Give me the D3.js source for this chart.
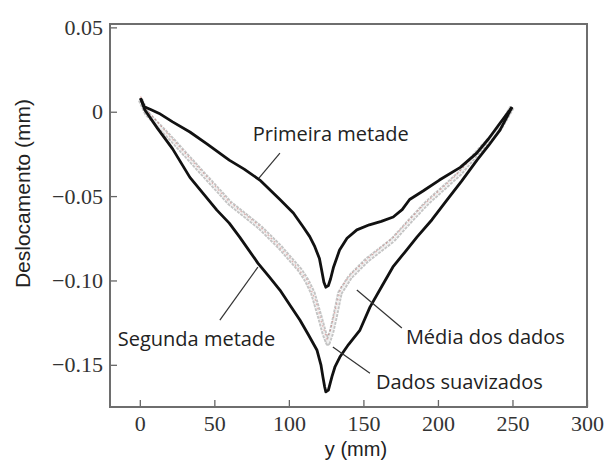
<!DOCTYPE html>
<html>
<head>
<meta charset="utf-8">
<script src="https://cdn.jsdelivr.net/npm/d3@7"></script>
<style>
  body { margin: 0; background: #fff; }
  svg { display: block; }
</style>
</head>
<body>
<div id="chart"></div>
<script>
// y (mm) and deslocamento (mm)
const primeiraX = [0.5, 3, 8, 13, 22, 33.6, 45, 60, 70, 80.5, 94, 103, 109.4, 114, 117.4, 120.5, 122, 123.5, 124.8, 126.5, 128, 130, 134, 139, 145.6, 154, 162, 170, 176, 181, 190, 201, 215, 226, 234, 241.6, 249.7];
const primeiraY = [0.008, 0.003, 0.001, -0.001, -0.006, -0.012, -0.019, -0.0287, -0.034, -0.0405, -0.052, -0.060, -0.068, -0.074, -0.080, -0.087, -0.094, -0.101, -0.104, -0.103, -0.099, -0.092, -0.082, -0.075, -0.070, -0.067, -0.065, -0.0624, -0.058, -0.052, -0.047, -0.0405, -0.033, -0.0245, -0.016, -0.0068, 0.0027];

const segundaX = [0.5, 3.4, 12, 22, 33.6, 43, 51.7, 60, 67, 79.2, 87, 94, 101, 107.4, 113, 118.8, 121.5, 122.8, 124, 124.8, 126.5, 128.9, 131, 134.2, 140, 147.7, 154.4, 162, 169.8, 178, 185.9, 196, 206, 216, 226.2, 234, 241.6, 249.7];
const segundaY = [0.008, 0.001, -0.010, -0.022, -0.0389, -0.049, -0.0583, -0.066, -0.0743, -0.0897, -0.098, -0.1057, -0.115, -0.1234, -0.132, -0.1412, -0.150, -0.157, -0.163, -0.166, -0.165, -0.157, -0.151, -0.1454, -0.138, -0.1294, -0.1158, -0.104, -0.092, -0.083, -0.0743, -0.064, -0.0524, -0.041, -0.0287, -0.020, -0.0109, 0.0027];

const mediaX = [0.5, 4.7, 20, 38.3, 60.4, 80.5, 94, 107.4, 112, 116.1, 120.8, 124, 126.2, 128.5, 130.9, 134.2, 141, 152.3, 169.8, 181, 192.6, 214.8, 226.2, 241.6, 249.7];
const mediaY = [0.007, -0.001, -0.015, -0.0328, -0.0542, -0.0684, -0.0802, -0.0938, -0.100, -0.1075, -0.1217, -0.132, -0.137, -0.131, -0.1217, -0.1075, -0.098, -0.088, -0.076, -0.065, -0.0541, -0.0364, -0.0245, -0.0098, 0.0027];

const suavizadoX = [0.5, 3, 20, 40, 60, 80, 100, 112, 118, 122, 125.5, 128, 131, 135, 142, 155, 170, 190, 210, 230, 249];
const suavizadoY = [0.009, 0.003, -0.0145, -0.0338, -0.0535, -0.0675, -0.086, -0.0995, -0.112, -0.125, -0.1345, -0.129, -0.118, -0.104, -0.096, -0.0855, -0.0745, -0.0555, -0.0395, -0.021, 0.002];

const xTicks = [0, 50, 100, 150, 200, 250, 300];
const yTicks = [-0.15, -0.10, -0.05, 0, 0.05];

const width = 608, height = 464;
const margin = {top: 24, right: 21, bottom: 57, left: 110};

const svg = d3.select("#chart").append("svg")
    .attr("width", width)
    .attr("height", height);

const x = d3.scaleLinear().domain([-20, 300]).range([margin.left, width - margin.right]);
const y = d3.scaleLinear().domain([-0.175, 0.052]).range([height - margin.bottom, margin.top]);

const toPoints = (xs, ys) => xs.map((d, i) => [d, ys[i]]);
const line = d3.line().x(d => x(d[0])).y(d => y(d[1]));

// axes, ticks pointing inward
const xAxis = svg.append("g")
    .attr("transform", `translate(0,${height - margin.bottom})`)
    .call(d3.axisBottom(x).tickValues(xTicks).tickSizeInner(-7).tickSizeOuter(0).tickPadding(8));
const yAxis = svg.append("g")
    .attr("transform", `translate(${margin.left},0)`)
    .call(d3.axisLeft(y).tickValues(yTicks).tickSizeInner(-7).tickSizeOuter(0).tickPadding(7)
      .tickFormat(d => d === 0 ? "0" : d3.format(".2f")(d)));

[xAxis, yAxis].forEach(g => {
  g.select(".domain").remove();
  g.selectAll("line").attr("stroke", "#666").attr("stroke-width", 1.3);
  g.selectAll("text")
    .attr("fill", "#333")
    .style("font-family", "'Liberation Serif', serif")
    .style("font-size", "22px");
});

svg.append("rect")
    .attr("x", margin.left)
    .attr("y", margin.top)
    .attr("width", width - margin.left - margin.right)
    .attr("height", height - margin.top - margin.bottom)
    .attr("fill", "none")
    .attr("stroke", "#6e6e6e")
    .attr("stroke-width", 2);

// média dos dados: light grey band of open squares
svg.append("path")
    .attr("d", line(toPoints(mediaX, mediaY)))
    .attr("fill", "none")
    .attr("stroke", "#c4c4c4")
    .attr("stroke-width", 5.5)
    .attr("stroke-dasharray", "3,1")
    .attr("stroke-linejoin", "round");
svg.append("path")
    .attr("d", line(toPoints(mediaX, mediaY)))
    .attr("fill", "none")
    .attr("stroke", "#f0f0f0")
    .attr("stroke-width", 1.8)
    .attr("stroke-linejoin", "round");

// dados suavizados: faint red dots
svg.append("path")
    .attr("d", line(toPoints(suavizadoX, suavizadoY)))
    .attr("fill", "none")
    .attr("stroke", "#c9504b")
    .attr("stroke-opacity", 0.4)
    .attr("stroke-width", 1.3)
    .attr("stroke-dasharray", "1.5,3");

// primeira / segunda metade
[[primeiraX, primeiraY], [segundaX, segundaY]].forEach(([xs, ys]) => {
  svg.append("path")
      .attr("d", line(toPoints(xs, ys)))
      .attr("fill", "none")
      .attr("stroke", "#111")
      .attr("stroke-width", 2.8)
      .attr("stroke-linejoin", "round");
});

// labels with leader lines
const notes = [
  {text: "Primeira metade", tx: 75.8, ty: -0.0174, l: [[94, -0.0245], [79.9, -0.0393]]},
  {text: "Segunda metade", tx: -14.8, ty: -0.1389, l: [[53.7, -0.1235], [79.2, -0.0921]]},
  {text: "Média dos dados", tx: 178.5, ty: -0.1377, l: [[145.6, -0.1057], [175.8, -0.1282]]},
  {text: "Dados suavizados", tx: 158.4, ty: -0.1644, l: [[129.5, -0.1395], [154.4, -0.155]]}
];
notes.forEach(n => {
  svg.append("path")
      .attr("d", line(n.l))
      .attr("stroke", "#333")
      .attr("stroke-width", 1.2);
  svg.append("text")
      .attr("x", x(n.tx))
      .attr("y", y(n.ty))
      .attr("fill", "#222")
      .style("font-family", "'Open Sans', sans-serif")
      .style("font-size", "20px")
      .text(n.text);
});

svg.append("text")
    .attr("x", x(145))
    .attr("y", height - 8)
    .attr("text-anchor", "middle")
    .attr("fill", "#222")
    .style("font-family", "'Liberation Sans', Arial, sans-serif")
    .style("font-size", "20px")
    .text("y (mm)");

svg.append("text")
    .attr("transform", `translate(30,${y(-0.0485)}) rotate(-90)`)
    .attr("text-anchor", "middle")
    .attr("fill", "#222")
    .style("font-family", "'Liberation Sans', Arial, sans-serif")
    .style("font-size", "21px")
    .text("Deslocamento (mm)");
</script>
</body>
</html>
